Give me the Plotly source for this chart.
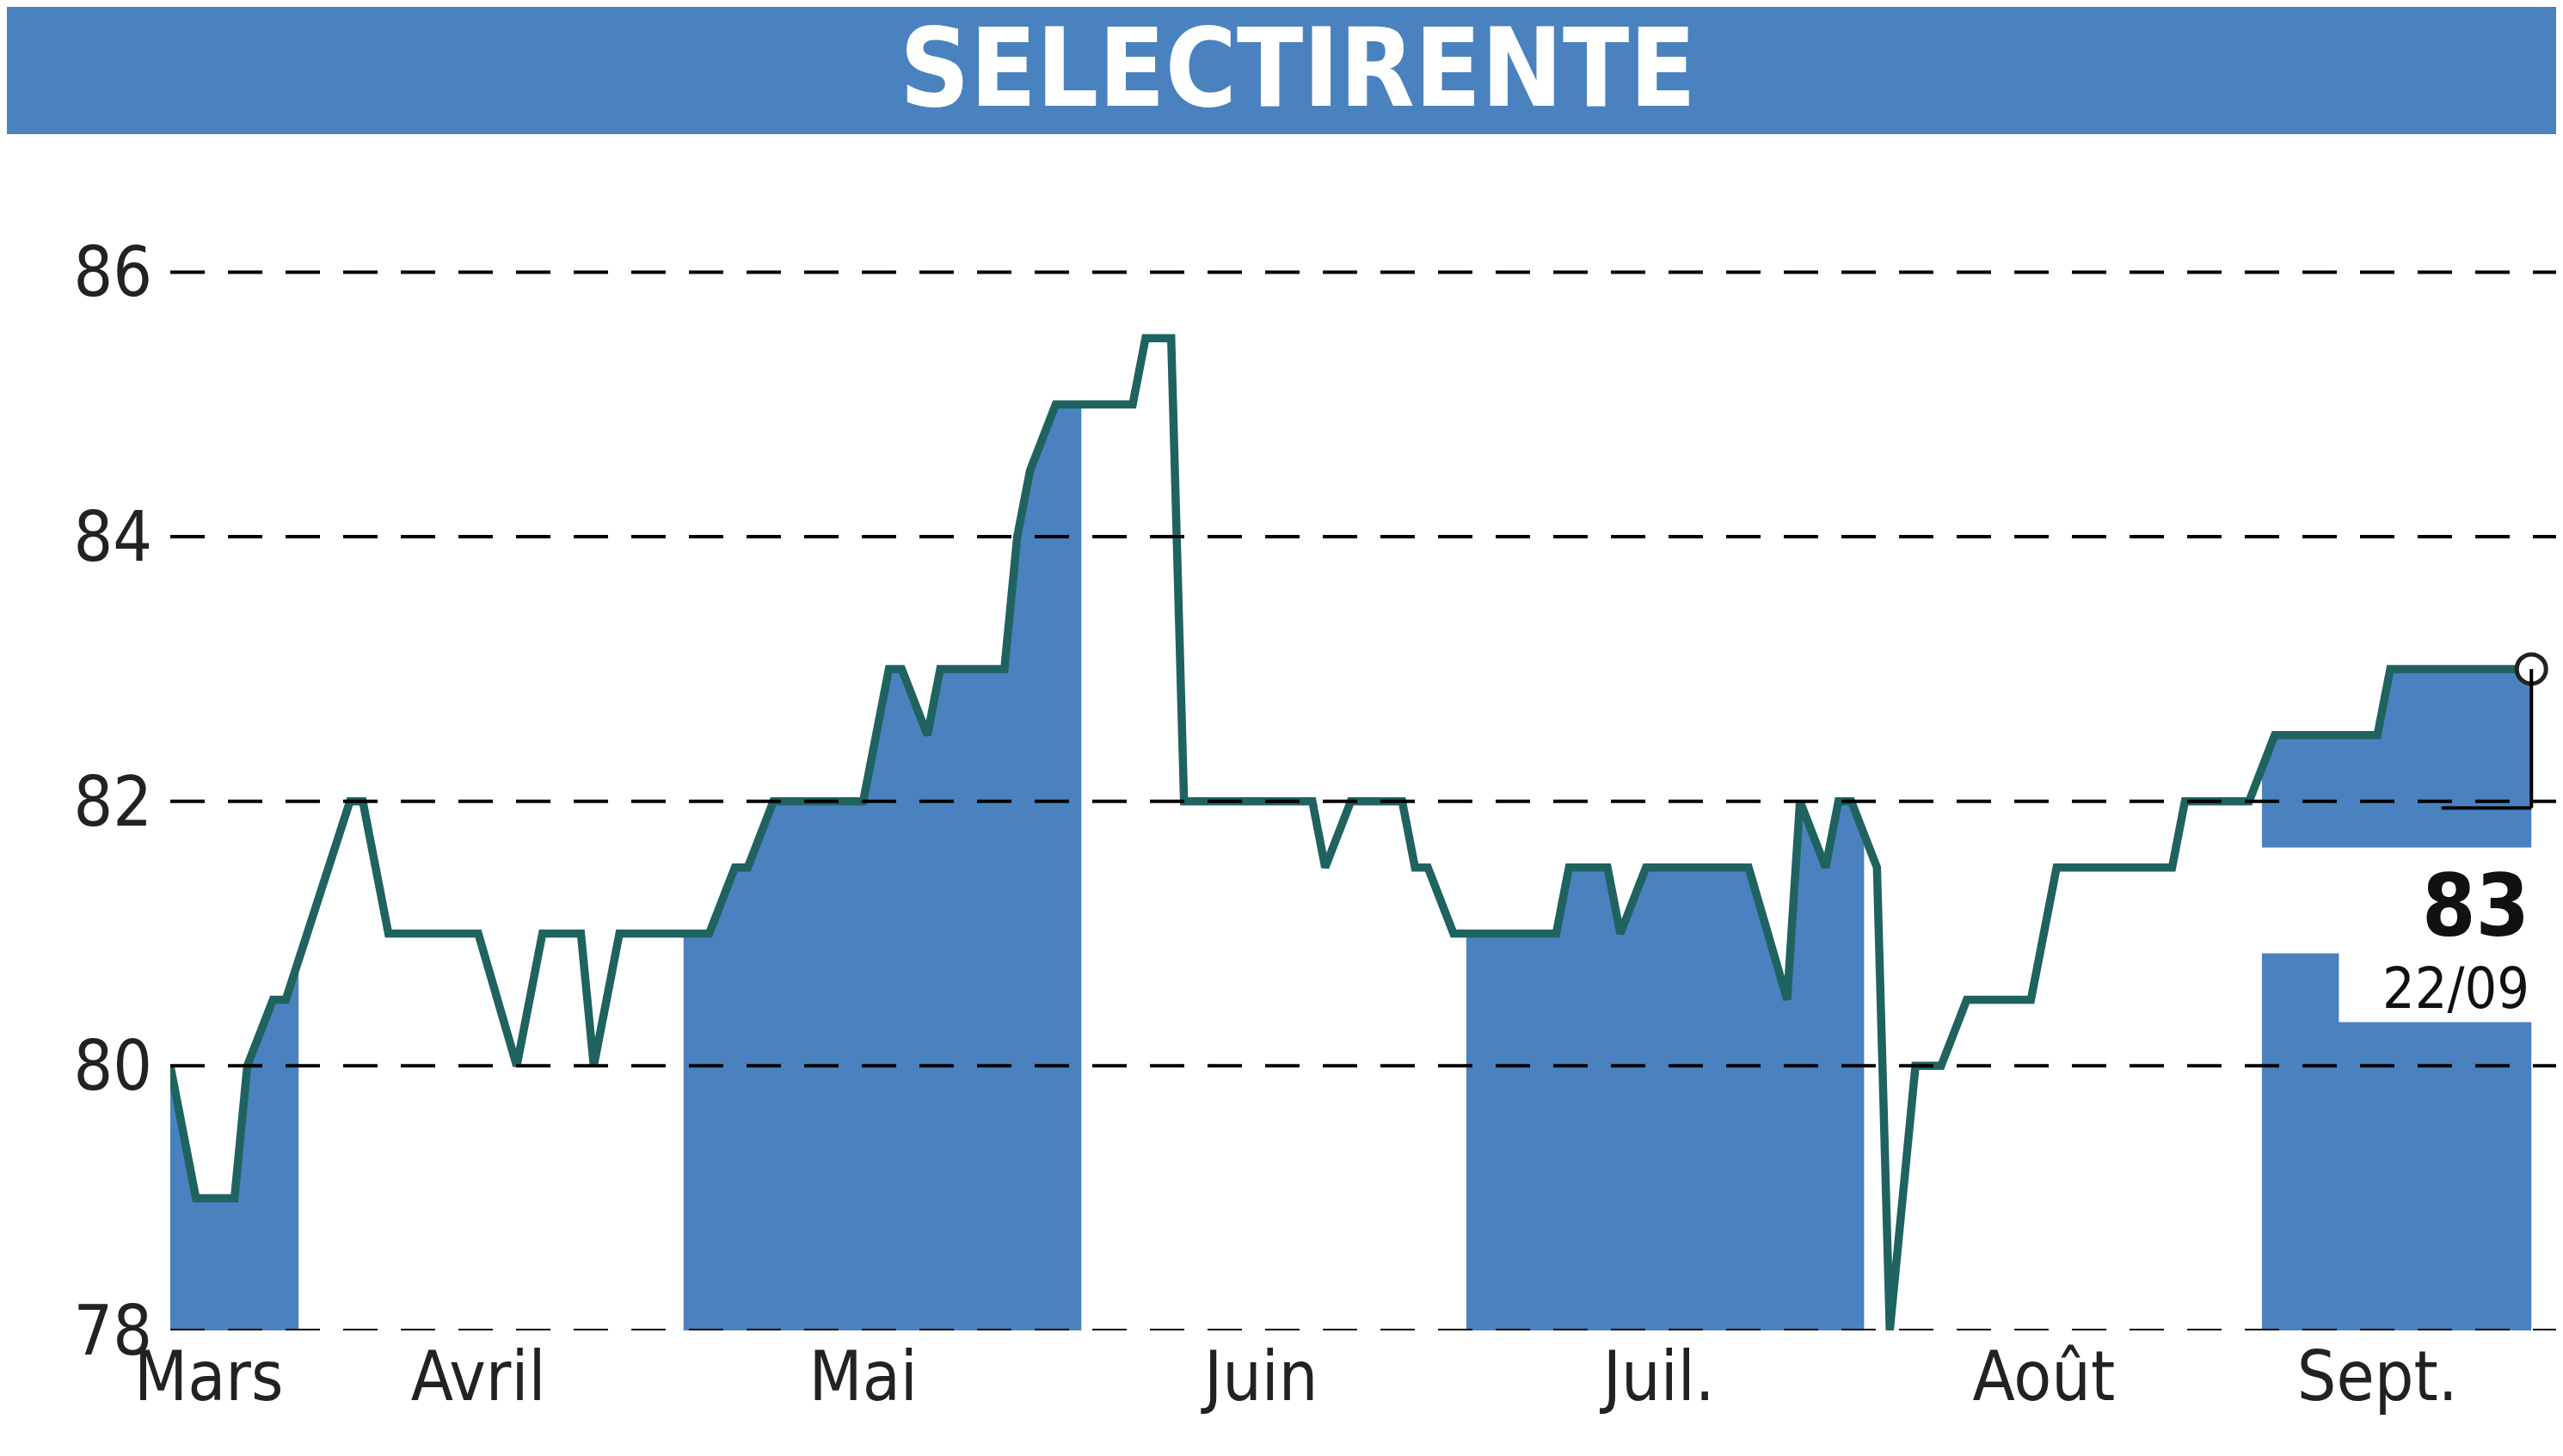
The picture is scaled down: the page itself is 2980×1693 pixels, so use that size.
import numpy as np
import pandas as pd
import plotly.graph_objects as go

dates = [
    "2023-03-22", "2023-03-24", "2023-03-27", "2023-03-28", "2023-03-30", "2023-03-31",
    "2023-04-05", "2023-04-06", "2023-04-08", "2023-04-15", "2023-04-18", "2023-04-20",
    "2023-04-23", "2023-04-24", "2023-04-26", "2023-05-03", "2023-05-05", "2023-05-06",
    "2023-05-08", "2023-05-15", "2023-05-17", "2023-05-18", "2023-05-20", "2023-05-21",
    "2023-05-26", "2023-05-27", "2023-05-28", "2023-05-30", "2023-06-05", "2023-06-06",
    "2023-06-08", "2023-06-09", "2023-06-19", "2023-06-20", "2023-06-22", "2023-06-26",
    "2023-06-27", "2023-06-28", "2023-06-30", "2023-07-08", "2023-07-09", "2023-07-12",
    "2023-07-13", "2023-07-15", "2023-07-23", "2023-07-26", "2023-07-27", "2023-07-29",
    "2023-07-30", "2023-07-31", "2023-08-02", "2023-08-03", "2023-08-05", "2023-08-07",
    "2023-08-09", "2023-08-14", "2023-08-16", "2023-08-25", "2023-08-26", "2023-08-31",
    "2023-09-02", "2023-09-10", "2023-09-11", "2023-09-22",
]
prices = [
    80, 79, 79, 80, 80.5, 80.5,
    82, 82, 81, 81, 80, 81,
    81, 80, 81, 81, 81.5, 81.5,
    82, 82, 83, 83, 82.5, 83,
    83, 84, 84.5, 85, 85, 85.5,
    85.5, 82, 82, 81.5, 82, 82,
    81.5, 81.5, 81, 81, 81.5, 81.5,
    81, 81.5, 81.5, 80.5, 82, 81.5,
    82, 82, 81.5, 78, 80, 80,
    80.5, 80.5, 81.5, 81.5, 82, 82,
    82.5, 82.5, 83, 83,
]
month_labels = ["Mars", "Avril", "Mai", "Juin", "Juil.", "Août", "Sept."]
month_mids = ["2023-03-25", "2023-04-15", "2023-05-15", "2023-06-15", "2023-07-16", "2023-08-15", "2023-09-10"]
shaded = [("2023-03-22", "2023-04-01"), ("2023-05-01", "2023-06-01"),
          ("2023-07-01", "2023-08-01"), ("2023-09-01", "2023-09-22")]

BLUE = "#4a82c0"
LINE = "#1f6360"
FONT = "DejaVu Sans Condensed"

t = pd.to_datetime(dates)
ts = t.astype("int64").to_numpy()
y = np.array(prices)

fig = go.Figure()

# filled area under the line for alternating months
for a, b in shaded:
    ta, tb = pd.Timestamp(a), pd.Timestamp(b)
    mask = (t > ta) & (t < tb)
    xs = [ta] + list(t[mask]) + [tb]
    ys = [np.interp(ta.value, ts, y)] + list(y[mask]) + [np.interp(tb.value, ts, y)]
    fig.add_trace(go.Scatter(x=xs, y=ys, mode="lines", line=dict(width=0),
                             fill="tozeroy", fillcolor=BLUE, hoverinfo="skip"))

fig.add_trace(go.Scatter(x=t, y=y, mode="lines", line=dict(color=LINE, width=9.5)))

shapes = []
# white label box in the Sept. band
shapes.append(dict(type="rect", xref="x", yref="y", x0="2023-08-31", x1="2023-09-23",
                   y0=80.85, y1=81.65, fillcolor="white", line_width=0, layer="above"))
shapes.append(dict(type="rect", xref="x", yref="y", x0="2023-09-07", x1="2023-09-23",
                   y0=80.33, y1=80.86, fillcolor="white", line_width=0, layer="above"))
for v in [78, 80, 82, 84, 86]:
    shapes.append(dict(type="line", xref="paper", yref="y", x0=0, x1=1, y0=v, y1=v,
                       line=dict(color="black", width=4, dash="40px,27px"), layer="above"))
shapes.append(dict(type="line", xref="x", yref="y", x0="2023-09-22", x1="2023-09-22",
                   y0=83, y1=81.95, line=dict(color="black", width=4), layer="above"))
shapes.append(dict(type="line", xref="x", yref="y", x0="2023-09-15", x1="2023-09-22",
                   y0=81.95, y1=81.95, line=dict(color="black", width=4), layer="above"))
# title bar
shapes.append(dict(type="rect", xref="paper", yref="paper", x0=-0.3, x1=1.1,
                   y0=1.016, y1=1.3, fillcolor=BLUE, line_width=0))
fig.update_layout(shapes=shapes)

fig.add_trace(go.Scatter(x=[t[-1]], y=[y[-1]], mode="markers", cliponaxis=False,
                         marker=dict(size=34, color="white", line=dict(color="#222", width=5))))

fig.add_annotation(xref="paper", yref="paper", x=0.47, y=1.072, yanchor="middle",
                   text="<b>SELECTIRENTE</b>",
                   showarrow=False, font=dict(size=126, color="white", family=FONT))
fig.add_annotation(x="2023-09-22", y=81.6, text="<b>83</b>", xanchor="right", yanchor="top",
                   showarrow=False, font=dict(size=100, color="#111", family=FONT))
fig.add_annotation(x="2023-09-22", y=80.85, text="22/09", xanchor="right", yanchor="top",
                   showarrow=False, font=dict(size=66, color="#111", family=FONT))

fig.update_layout(
    width=2980, height=1693,
    margin=dict(l=190, r=0, t=170, b=154),
    plot_bgcolor="white", paper_bgcolor="white",
    showlegend=False,
    font=dict(family=FONT, size=80, color="#222"),
    xaxis=dict(range=["2023-03-22", "2023-09-25"], showgrid=False, zeroline=False,
               tickvals=month_mids, ticktext=month_labels, ticks="", showline=False),
    yaxis=dict(range=[78, 86.9], showgrid=False, zeroline=False,
               tickvals=[78, 80, 82, 84, 86], ticks="", ticklabelstandoff=20),
)

fig.write_html("out.html")
